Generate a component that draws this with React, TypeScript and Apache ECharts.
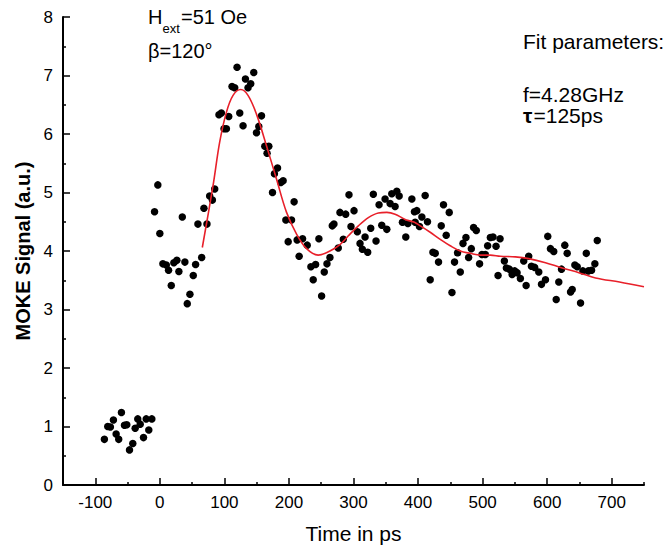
import React, { useEffect, useRef } from "react";
import * as echarts from "echarts";

// Data before time zero (ps, a.u.)
const preTimes = [-85.9, -80.7, -76.6, -71.9, -67.7, -63.7, -59.5, -54.8, -51.2, -47, -41.9, -38.2, -34.2, -30.4, -25.3, -21.1, -17.1, -12.4];
const preSignal = [0.78, 1.0, 0.99, 1.11, 0.87, 0.78, 1.24, 1.02, 1.03, 0.6, 0.71, 0.97, 1.13, 1.04, 0.81, 1.13, 0.94, 1.13];

// Data after time zero
const postTimes = [
  -8.2, -3.1, 0, 4.7, 10, 13.5, 17.7, 21.7, 26.4, 29.5, 34.8, 38.8, 42.5, 46.6, 51.8, 55.4, 59, 64.8, 68.3, 73, 77.2, 81.4, 85,
  91.6, 95.3, 99.4, 103.1, 106.7, 111.8, 116, 119.6, 123.8, 128.9, 132.6, 136.6, 140.8, 145.5, 149.7, 153.3, 157.5, 162.6, 166.1, 168.8,
  174.5, 177.5, 182.3, 187.4, 191, 195.2, 198.8, 204, 208, 212.7, 215.8, 221.1, 228.3, 234, 237.6, 241.3, 246.4, 250.6, 254.7, 258.9,
  263.5, 267.1, 269.7, 276.4, 279, 284.2, 287.9, 293, 296.1, 300.8, 305.9, 310.1, 313.7, 317.9, 322, 326.7, 330.7, 334.9, 339.6, 343.8,
  348.9, 351.6, 356.7, 359.3, 364.4, 367.1, 370.7, 375.8, 381, 384.2, 390.4, 394.4, 395.5, 398.1, 402.2, 405.9, 411, 414.6, 418.8, 423,
  426.6, 431.7, 435.9, 439.4, 443.6, 448.3, 452.5, 456.5, 461.2, 465.4, 469.6, 474.2, 478.3, 482.5, 486, 490.2, 495.3, 499, 504.2, 507.8,
  512, 516.1, 520.8, 523.9, 527, 533.7, 536.8, 541.5, 545.7, 549.7, 553.4, 558.5, 563.7, 567.4, 571.4, 575.6, 580.7, 587, 591.2, 597.4,
  600.9, 605.1, 610.2, 614, 618, 622.2, 627.3, 631, 636.2, 638.8, 642.9, 646.6, 651.7, 655.3, 660.6, 663.7, 668.8, 673.9, 677.6,
];
const postSignal = [
  4.67, 5.13, 4.3, 3.78, 3.76, 3.67, 3.41, 3.8, 3.84, 3.65, 4.58, 3.81, 3.1, 3.26, 3.58, 3.77, 4.46, 3.89, 4.73, 4.46, 4.94, 4.87, 5.06,
  6.33, 6.36, 6.09, 6.09, 6.3, 6.81, 6.79, 7.14, 6.36, 6.14, 6.94, 6.79, 6.86, 7.05, 6.02, 6.13, 6.31, 5.79, 5.67, 5.79,
  5.0, 5.32, 5.42, 5.17, 5.2, 4.53, 4.16, 4.53, 4.84, 4.19, 3.91, 4.21, 4.1, 3.73, 3.51, 3.77, 4.21, 3.23, 3.64, 3.78,
  3.89, 4.43, 4.46, 4.05, 4.66, 4.2, 4.63, 4.96, 4.42, 4.69, 4.33, 4.13, 4.03, 4.24, 3.98, 4.39, 4.97, 4.17, 4.79, 4.44,
  4.89, 4.37, 4.81, 4.98, 4.76, 5.02, 4.94, 4.49, 4.24, 4.47, 4.89, 4.67, 4.49, 4.69, 4.42, 4.58, 4.95, 4.5, 3.51, 3.98,
  3.96, 3.81, 4.43, 4.79, 4.27, 4.66, 3.29, 3.81, 3.97, 3.64, 4.13, 4.23, 3.89, 4.04, 4.4, 4.35, 3.78, 3.94, 3.94, 4.09,
  4.23, 4.24, 4.08, 3.58, 4.21, 3.83, 3.71, 3.69, 3.6, 3.66, 3.63, 3.53, 3.83, 3.41, 3.91, 3.74, 3.72, 3.64, 3.43, 3.51,
  4.25, 4.04, 3.99, 3.17, 3.47, 3.69, 4.1, 3.96, 3.3, 3.34, 3.76, 3.73, 3.11, 3.66, 3.96, 3.66, 3.67, 3.78, 4.18,
];

// Fit curve
const fitTimes = [65.8, 82.3, 92.7, 103.1, 113.4, 125.3, 136.6, 149.7, 165.2, 180.7, 196.3, 211.8, 227.3, 245.3, 263.5, 279, 292, 307.5, 323, 338.5, 351.6, 364.4, 380, 394.4, 403.3, 418.8, 434.3, 449.8, 465.4, 480.9, 496.4, 511.9, 527.5, 550.8, 571.4, 597.4, 623.3, 649.1, 675, 712, 750];
const fitSignal = [4.06, 5.11, 5.86, 6.37, 6.66, 6.76, 6.66, 6.34, 5.8, 5.23, 4.66, 4.29, 4.04, 3.93, 4.0, 4.11, 4.26, 4.43, 4.57, 4.65, 4.66, 4.63, 4.54, 4.49, 4.43, 4.32, 4.2, 4.09, 4.0, 3.96, 3.93, 3.93, 3.91, 3.9, 3.87, 3.8, 3.71, 3.63, 3.54, 3.47, 3.39];

const xMajorTicks = [-100, 0, 100, 200, 300, 400, 500, 600, 700];
const xMinorTicks = [-50, 50, 150, 250, 350, 450, 550, 650, 750];

const FONT = '"Liberation Sans", Arial, sans-serif';

export default function App() {
  const ref = useRef<HTMLDivElement>(null);
  useEffect(() => {
    if (!ref.current) return;
    const chart = echarts.init(ref.current, null, { renderer: "svg" });
    const scatterData = [
      ...preTimes.map((t, i) => [t, preSignal[i]]),
      ...postTimes.map((t, i) => [t, postSignal[i]]),
    ];
    const fitData = fitTimes.map((t, i) => [t, fitSignal[i]]);
    const txt = (text: string, x: number, y: number, size: number, bold = false) => ({
      type: "text",
      x,
      y,
      style: {
        text,
        fill: "#000",
        font: `${bold ? "bold " : ""}${size}px ${FONT}`,
        verticalAlign: "middle",
        align: "left",
      },
    });
    chart.setOption({
      animation: false,
      backgroundColor: "#fff",
      textStyle: { fontFamily: FONT },
      grid: { left: 63, right: 27, top: 17, bottom: 69 },
      xAxis: [
        {
          type: "value",
          min: -150,
          max: 750,
          name: "Time in ps",
          nameLocation: "middle",
          nameGap: 38,
          nameTextStyle: { fontSize: 21, color: "#000", fontFamily: FONT },
          axisLine: { show: true, onZero: false, lineStyle: { color: "#000", width: 2 } },
          axisTick: { show: true, inside: true, length: 7, customValues: xMajorTicks, lineStyle: { color: "#000", width: 1.5 } },
          axisLabel: { customValues: xMajorTicks, fontSize: 17, color: "#000", margin: 9, fontFamily: FONT },
          splitLine: { show: false },
        },
        {
          type: "value",
          min: -150,
          max: 750,
          position: "bottom",
          axisLine: { show: false, onZero: false },
          axisTick: { show: true, inside: true, length: 3, customValues: xMinorTicks, lineStyle: { color: "#000", width: 1.5 } },
          axisLabel: { show: false },
          splitLine: { show: false },
        },
      ],
      yAxis: {
        type: "value",
        min: 0,
        max: 8,
        interval: 1,
        name: "MOKE Signal (a.u.)",
        nameLocation: "middle",
        nameGap: 28,
        nameTextStyle: { fontSize: 20, fontWeight: "bold", color: "#000", fontFamily: FONT },
        axisLine: { show: true, onZero: false, lineStyle: { color: "#000", width: 2 } },
        axisTick: { show: true, inside: true, length: 7, lineStyle: { color: "#000", width: 1.5 } },
        minorTick: { show: true, splitNumber: 2, length: 3, lineStyle: { color: "#000", width: 1.5 } },
        axisLabel: { fontSize: 17, color: "#000", margin: 10, fontFamily: FONT },
        splitLine: { show: false },
        minorSplitLine: { show: false },
      },
      series: [
        {
          type: "scatter",
          data: scatterData,
          symbol: "circle",
          symbolSize: 7.5,
          itemStyle: { color: "#000", opacity: 1 },
          xAxisIndex: 0,
          z: 2,
        },
        {
          type: "line",
          data: fitData,
          smooth: 0.35,
          showSymbol: false,
          symbol: "none",
          lineStyle: { color: "#e8202a", width: 1.6 },
          xAxisIndex: 0,
          z: 3,
        },
      ],
      graphic: [
        txt("H", 148, 17, 20),
        txt("ext", 162.5, 28, 13),
        txt("=51 Oe", 181, 17, 20),
        txt("β=120°", 148, 50.5, 20),
        txt("Fit parameters:", 523, 41, 21),
        txt("f=4.28GHz", 523, 94, 21),
        txt("τ", 523, 115, 21, true),
        txt("=125ps", 533.5, 115, 21),
      ],
    });
    return () => chart.dispose();
  }, []);
  return (
    <div
      ref={ref}
      style={{ position: "absolute", left: 0, top: 0, width: 671, height: 554, background: "#fff" }}
    />
  );
}
